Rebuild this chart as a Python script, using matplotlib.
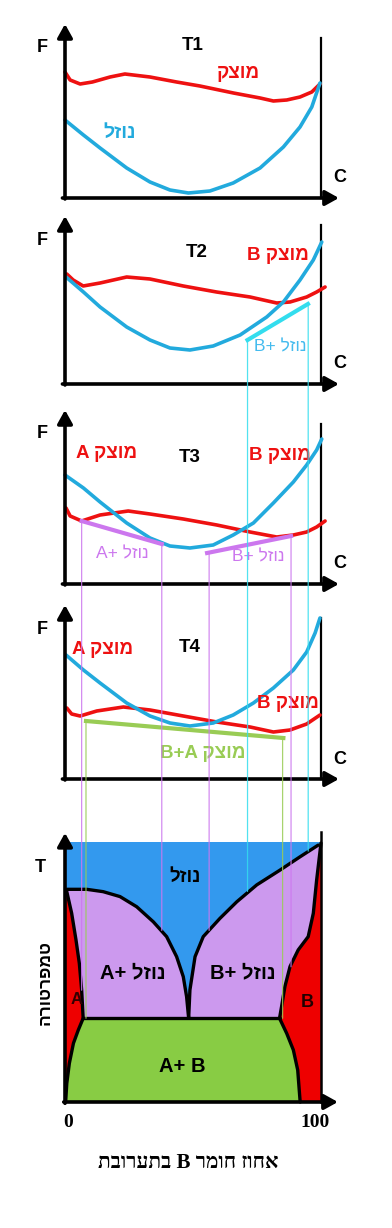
import matplotlib.pyplot as plt
from matplotlib.patches import ConnectionPatch

W, H = 392, 1228
SANS = ['Liberation Sans', 'DejaVu Sans']
SERIF = ['Liberation Serif', 'DejaVu Sans']

RED = '#ee1111'
BLUE = '#22aadd'
CYAN = '#33ddee'
PURPLE = '#cc77ee'
GREEN = '#99cc55'


def rtl(s):
    # matplotlib has no bidi, so hebrew is put in visual order
    return s[::-1]


# ---- free energy curves: x = % B, F = height above the C axis ----
red_c1 = [0, 2, 5.9, 10.7, 17.6, 23.4, 33.2, 43.6, 52.7, 65.8, 76.2, 81.4, 86.6, 91.8, 96.4, 99.6]
red_f1 = [126, 118, 114, 116, 121, 124, 121, 116, 112, 105, 100, 97, 98, 101, 106, 114]
blue_c1 = [0, 7.2, 13.7, 24.1, 33.2, 41, 48.2, 56.6, 65.7, 76.2, 85.3, 91.8, 96.4, 99.6]
blue_f1 = [78, 63, 50, 30, 16, 8, 5, 7, 15, 30, 51, 71, 91, 115]

red_c2 = [0.7, 3.2, 7.1, 13.7, 24.1, 33.2, 46.2, 59.2, 72.3, 82.7, 87.9, 94.4, 98.3, 101.6]
red_f2 = [110, 104, 98, 101, 107, 105, 98, 92, 87, 81, 82, 87, 92, 97]
blue_c2 = [0.4, 7.2, 13.7, 24.1, 33.2, 41, 48.8, 57.9, 68.4, 78.8, 85.3, 91.8, 97, 100.3]
blue_f2 = [107, 92, 77, 57, 44, 36, 34, 38, 49, 67, 82, 104, 124, 142]

red_c3 = [0.4, 2, 6.5, 13.7, 24.7, 33.2, 46.2, 59.3, 72.3, 82.7, 89.2, 94.4, 98.3, 101.6]
red_f3 = [76, 68, 63, 69, 73, 70, 65, 59, 52, 47, 49, 52, 57, 63]
blue_c3 = [0, 7.2, 13.7, 24.1, 33.2, 41, 48.8, 57.9, 65.7, 73.6, 81.4, 89.2, 94.4, 98.3, 100.3]
blue_f3 = [109, 96, 82, 61, 46, 38, 36, 39, 49, 61, 81, 102, 119, 134, 145]

red_c4 = [0.7, 2.6, 5.9, 12.4, 22.8, 33.2, 46.2, 59.3, 72.3, 81.4, 87.9, 94.4, 99.6]
red_f4 = [71, 65, 63, 68, 72, 69, 63, 57, 52, 47, 49, 55, 64]
blue_c4 = [0.4, 7.2, 13.7, 24.1, 33.2, 41, 48.8, 57.9, 65.7, 73.6, 81.4, 89.2, 94.4, 97.7, 99.6]
blue_f4 = [124, 109, 96, 76, 63, 56, 53, 56, 64, 76, 91, 109, 127, 146, 161]

# common tangents
tie2_c, tie2_f = [71.3, 94.9], [44, 80]
tie3a_c, tie3a_f = [6.5, 37.8], [63, 40]
tie3b_c, tie3b_f = [55.5, 88.3], [31, 48]
tie4_c, tie4_f = [8.2, 85.3], [58, 41]

# ---- phase diagram: x = % B, T scaled 0..100 ----
liq_c = [0, 0.7, 8.5, 14.9, 21.5, 28.0, 34.5, 39.7, 43.6, 46.2, 47.5, 48.3,
         48.8, 50.8, 54.0, 60.5, 67.1, 74.9, 84.0, 91.8, 98.9, 100]
liq_t = [81.8, 81.8, 81.8, 80.9, 79.0, 75.1, 69.3, 63.6, 55.9, 48.2, 40.5, 32.2,
         43.1, 55.9, 63.6, 70.6, 77.0, 83.5, 89.2, 94.3, 98.8, 99.6]
solA_c = [0.7, 2.6, 4.3, 5.6, 6.5, 7.1]
solA_t = [80.9, 72.6, 62.3, 53.3, 43.1, 32.2]
svA_c = [7.1, 5.2, 3.3, 1.7, 0.7, 0.3, 0.2]
svA_t = [32.2, 27.7, 22.6, 14.9, 7.2, 0.8, 0]
solB_c = [100, 98.3, 97.0, 95.0, 91.1, 87.9, 85.9, 84.6, 83.8]
solB_t = [99.6, 85.4, 72.6, 63.6, 58.5, 52.1, 44.4, 36.7, 32.2]
svB_c = [83.8, 86.6, 89.2, 90.9, 91.5, 91.8, 91.9]
svB_t = [32.2, 26.4, 20.0, 12.3, 4.6, 0.8, 0]
eut_c, eut_t = [7.1, 83.8], [32.2, 32.2]

# vertical guides: (panel, % B, F start, T end, colour)
guides = [
    (1, 71.3, 44, 81.0, CYAN),
    (1, 95.0, 80, 96.5, CYAN),
    (2, 6.5, 63, 43.0, PURPLE),
    (2, 37.8, 40, 66.0, PURPLE),
    (2, 56.3, 31, 66.0, PURPLE),
    (2, 88.3, 48, 52.0, PURPLE),
    (3, 8.2, 58, 32.2, GREEN),
    (3, 85.0, 41, 32.2, GREEN),
]

fig = plt.figure(figsize=(W / 100, H / 100), dpi=100)

X0 = -65 / 2.56
X1 = (W - 65) / 2.56


def make_axes(top, bottom, axis_y, scale=1.0):
    ax = fig.add_axes([0, 1 - bottom / H, 1, (bottom - top) / H])
    ax.set_xlim(X0, X1)
    ax.set_ylim((axis_y - bottom) / scale, (axis_y - top) / scale)
    ax.axis('off')
    return ax


def arrow(ax, x0, y0, x1, y1):
    ax.annotate('', xy=(x1, y1), xytext=(x0, y0),
                arrowprops=dict(arrowstyle='-|>,head_length=0.45,head_width=0.25',
                                lw=2.6, color='black', mutation_scale=18,
                                shrinkA=0, shrinkB=0), annotation_clip=False)


def txt(ax, x, y, s, color='black', size=13.5, weight='bold', family=SANS, **kw):
    ax.text(x, y, s, color=color, fontsize=size, fontweight=weight, family=family,
            ha='center', va='center', clip_on=False, **kw)


panels = [
    (0, 210, 198, 174, 160),
    (210, 395, 384, 168, 159),
    (395, 590, 584, 174, 160),
    (590, 790, 779, 174, 161),
]
reds = [(red_c1, red_f1), (red_c2, red_f2), (red_c3, red_f3), (red_c4, red_f4)]
blues = [(blue_c1, blue_f1), (blue_c2, blue_f2), (blue_c3, blue_f3), (blue_c4, blue_f4)]

axes = []
for i, (top, bottom, axis_y, ytop, rtop) in enumerate(panels):
    ax = make_axes(top, bottom, axis_y)
    axes.append(ax)
    arrow(ax, 0, -1, 0, ytop)
    arrow(ax, -1, 0, 107, 0)
    ax.plot([100, 100], [0, rtop], color='black', lw=1.6)
    ax.plot(*reds[i], color=RED, lw=2.6, solid_capstyle='round', solid_joinstyle='round')
    ax.plot(*blues[i], color=BLUE, lw=2.6, solid_capstyle='round', solid_joinstyle='round')
    txt(ax, -9, ytop - 24, 'F', size=13)
    txt(ax, 107.5, 20, 'C', size=13)

a1, a2, a3, a4 = axes
txt(a1, 50, 153, 'T1')
txt(a1, 67.6, 125, rtl('מוצק'), color=RED)
txt(a1, 21.5, 65, rtl('נוזל'), color=BLUE, size=14)

txt(a2, 51.6, 132, 'T2')
txt(a2, 83, 129, rtl('מוצק B'), color=RED)
a2.plot(tie2_c, tie2_f, color=CYAN, lw=3)
txt(a2, 84, 37, rtl('נוזל +B'), color='#44bbee', size=12.5, weight='normal')

txt(a3, 16.4, 131, rtl('מוצק A'), color=RED)
txt(a3, 48.8, 127, 'T3')
txt(a3, 84, 129, rtl('מוצק B'), color=RED)
a3.plot(tie3a_c, tie3a_f, color=PURPLE, lw=3)
a3.plot(tie3b_c, tie3b_f, color=PURPLE, lw=3)
txt(a3, 22.3, 30, rtl('נוזל +A'), color=PURPLE, size=12.5, weight='normal')
txt(a3, 75.4, 27, rtl('נוזל +B'), color=PURPLE, size=12.5, weight='normal')

txt(a4, 14.5, 129, rtl('מוצק A'), color=RED)
txt(a4, 48.8, 131, 'T4')
txt(a4, 87.1, 76, rtl('מוצק B'), color=RED)
a4.plot(tie4_c, tie4_f, color=GREEN, lw=3)
txt(a4, 53.9, 26, rtl('מוצק A+B'), color=GREEN)

# ---- phase diagram ----
ap = make_axes(790, H, 1102, scale=2.6)
ap.fill_between([0, 100], 0, 100, color='#3399ee', lw=0)
ap.fill(liq_c + [100, 0], liq_t + [0, 0], color='#cc99ee', lw=0)
ap.fill([0] + solA_c + svA_c, [81.8] + solA_t + svA_t, color='#ee0000', lw=0)
ap.fill(solB_c + svB_c + [100], solB_t + svB_t + [0], color='#ee0000', lw=0)
ap.fill(svA_c + svB_c[::-1], svA_t + svB_t[::-1], color='#88cc44', lw=0)

for c, t in [(liq_c[1:-1], liq_t[1:-1]), (solA_c, solA_t), (svA_c, svA_t),
             (solB_c, solB_t), (svB_c, svB_t), (eut_c, eut_t)]:
    ap.plot(c, t, color='black', lw=2.4, solid_capstyle='round', solid_joinstyle='round')

arrow(ap, 0, -0.5, 0, 103.5)
arrow(ap, -0.5, 0, 106.6, 0)
ap.plot([100, 100], [0, 103.8], color='black', lw=1.8)

txt(ap, 46.9, 86.5, rtl('נוזל'), size=13.5)
txt(ap, 26.6, 49.6, rtl('נוזל +A'), size=14.5)
txt(ap, 69.5, 49.6, rtl('נוזל +B'), size=14.5)
txt(ap, 4.7, 39.6, 'A', color='#330000', size=12)
txt(ap, 94.5, 38.1, 'B', color='#220000', size=13)
txt(ap, 45.7, 13.8, 'A+ B', size=14.5)
txt(ap, -9.8, 90, 'T', size=13)
txt(ap, -7.8, 45.8, rtl('טמפרטורה'), size=12.5, rotation=90)
txt(ap, 1.2, -7.7, '0', size=14, family=SERIF)
txt(ap, 97.7, -7.7, '100', size=14, family=SERIF)
txt(ap, 48, -23.5, rtl('אחוז חומר B בתערובת'), size=15, family=SERIF)

# thin guides from the tangent points down to the phase diagram
for k, c, f, t, col in guides:
    con = ConnectionPatch(xyA=(c, f), coordsA=axes[k].transData,
                          xyB=(c, t), coordsB=ap.transData,
                          color=col, lw=0.9, alpha=0.85)
    fig.add_artist(con)

fig.savefig('out.png', dpi=100)
